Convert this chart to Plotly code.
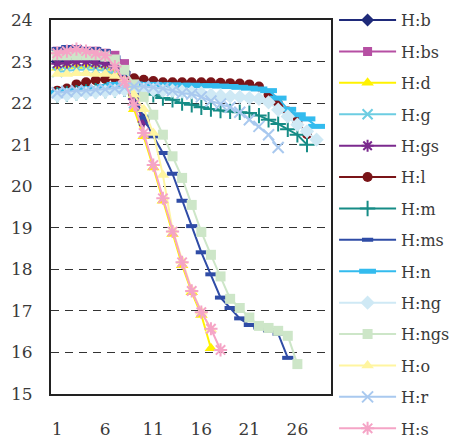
import plotly.graph_objects as go

x_vals = list(range(1, 29))
x_ticks = [1, 6, 11, 16, 21, 26]
y_ticks = [15, 16, 17, 18, 19, 20, 21, 22, 23, 24]

h_b = [23.0, 23.0, 23.05, 23.05, 23.0, 23.0, 22.9, 22.75, 22.1, 21.6]
h_bs = [23.25, 23.25, 23.25, 23.25, 23.25, 23.2, 23.15, 22.95]
h_d = [22.85, 22.9, 22.9, 22.9, 22.9, 22.85, 22.75, 22.5, 21.85, 21.2, 20.45, 19.65, 18.85, 18.1, 17.45, 16.9, 16.1]
h_g = [22.75, 22.78, 22.8, 22.8, 22.8, 22.78, 22.7, 22.55, 22.0, 21.6]
h_gs = [22.95, 22.97, 23.0, 23.0, 22.97, 22.95, 22.9, 22.7, 22.1, 21.55]
h_l = [22.3, 22.35, 22.45, 22.5, 22.55, 22.58, 22.6, 22.62, 22.6, 22.56, 22.53, 22.5, 22.5, 22.5,
       22.5, 22.5, 22.5, 22.49, 22.48, 22.47, 22.45, 22.4, 22.2, 21.98, 21.8, 21.55, 21.25]
h_m = [22.2, 22.22, 22.25, 22.27, 22.3, 22.3, 22.32, 22.33, 22.33, 22.3, 22.2, 22.12, 22.08, 22.0,
       21.96, 21.9, 21.86, 21.82, 21.8, 21.78, 21.76, 21.7, 21.6, 21.5, 21.37, 21.24, 21.0]
h_ms = [23.3, 23.35, 23.35, 23.3, 23.3, 23.25, 23.1, 22.7, 22.2, 21.65, 21.2, 20.8, 20.3, 19.65,
        19.04, 18.41, 17.88, 17.32, 17.07, 16.82, 16.66, 16.6, 16.53, 16.45, 15.87]
h_n = [22.25, 22.3, 22.3, 22.35, 22.35, 22.4, 22.45, 22.46, 22.46, 22.45, 22.45, 22.44, 22.44, 22.43,
       22.43, 22.42, 22.42, 22.41, 22.4, 22.38, 22.36, 22.34, 22.3, 22.12, 21.85, 21.72, 21.62, 21.44]
h_ng = [22.18, 22.2, 22.22, 22.24, 22.26, 22.28, 22.3, 22.32, 22.33, 22.33, 22.32, 22.3, 22.3, 22.28,
        22.26, 22.24, 22.2, 22.18, 22.16, 22.15, 22.12, 22.1, 22.02, 21.84, 21.68, 21.48, 21.32, 21.12]
h_ngs = [23.15, 23.15, 23.15, 23.15, 23.15, 23.12, 23.05, 22.8, 22.45, 22.15, 21.72, 21.24, 20.72, 20.2,
         19.55, 18.9, 18.35, 17.83, 17.29, 17.07, 16.84, 16.64, 16.59, 16.52, 16.4, 15.72]
h_o = [22.7, 22.7, 22.72, 22.72, 22.7, 22.7, 22.65, 22.55, 22.2, 21.85, 21.28, 20.27, 18.95, 18.2, 17.5, 16.98, 16.55]
h_r = [22.25, 22.28, 22.3, 22.3, 22.32, 22.33, 22.35, 22.38, 22.4, 22.4, 22.38, 22.35, 22.3, 22.24,
       22.22, 22.15, 22.05, 21.98, 21.9, 21.78, 21.6, 21.44, 21.24, 20.93]
h_s = [23.2, 23.25, 23.3, 23.25, 23.2, 23.15, 22.88, 22.52, 21.96, 21.28, 20.51, 19.71, 18.91, 18.17,
       17.48, 16.97, 16.57, 16.06]

series = [
    ("H:b", h_b, "#1f2a7a", "diamond", 10, False, 0),
    ("H:bs", h_bs, "#b64fa3", "square", 9, False, 0),
    ("H:d", h_d, "#fff200", "triangle-up", 11, False, 0),
    ("H:g", h_g, "#6ccde2", "x-thin-open", 10, True, 2),
    ("H:gs", h_gs, "#7b2a8e", "asterisk-open", 10, True, 2),
    ("H:l", h_l, "#7a1418", "circle", 10, False, 0),
    ("H:m", h_m, "#168c86", "cross-thin-open", 11, True, 2),
    ("H:ms", h_ms, "#2f4ca6", "line-ew-open", 8, True, 4),
    ("H:n", h_n, "#33bbee", "line-ew-open", 12, True, 5),
    ("H:ng", h_ng, "#cfe9f5", "diamond", 11, False, 0),
    ("H:ngs", h_ngs, "#cde6c8", "square", 10, False, 0),
    ("H:o", h_o, "#fff5a0", "triangle-up", 11, False, 0),
    ("H:r", h_r, "#a9c9ef", "x-thin-open", 11, True, 2),
    ("H:s", h_s, "#f5a4c6", "asterisk-open", 11, True, 2),
]

fig = go.Figure()
for name, vals, color, sym, size, is_open, lw in series:
    marker = dict(symbol=sym, size=size, color=color)
    if is_open:
        marker["line"] = dict(color=color, width=lw)
    else:
        marker["line"] = dict(width=0)
    fig.add_trace(go.Scatter(
        x=x_vals[:len(vals)], y=vals, name=name, mode="lines+markers",
        line=dict(color=color, width=2), marker=marker, legendgroup=name,
    ))

font_family = "DejaVu Serif"
fig.update_layout(
    width=451, height=430,
    margin=dict(l=43, r=128, t=12, b=44, autoexpand=False),
    paper_bgcolor="white", plot_bgcolor="white",
    font=dict(family=font_family, size=17, color="#3a3a3a"),
    legend=dict(
        x=1.011, xanchor="left", y=1.045, yanchor="top",
        font=dict(family=font_family, size=16, color="#3a3a3a"),
        tracegroupgap=7.6, itemwidth=57, maxheight=1000,
        bgcolor="rgba(0,0,0,0)", borderwidth=0,
    ),
    showlegend=True,
)
fig.update_xaxes(
    range=[0.35, 29.5], tickmode="array", tickvals=x_ticks, ticktext=[str(t) for t in x_ticks],
    showgrid=False, zeroline=False, showline=True, linecolor="#222", linewidth=2, mirror=True,
    ticks="", ticklabelstandoff=19, tickfont=dict(size=17),
)
fig.update_yaxes(
    range=[15, 24], tickmode="array", tickvals=y_ticks, ticktext=[str(t) for t in y_ticks],
    showgrid=True, gridcolor="#333", gridwidth=1.2, griddash="8px,6px",
    zeroline=False, showline=True, linecolor="#222", linewidth=2, mirror=True,
    ticks="", ticklabelstandoff=13, tickfont=dict(size=17),
)

fig.write_html("out.html")
